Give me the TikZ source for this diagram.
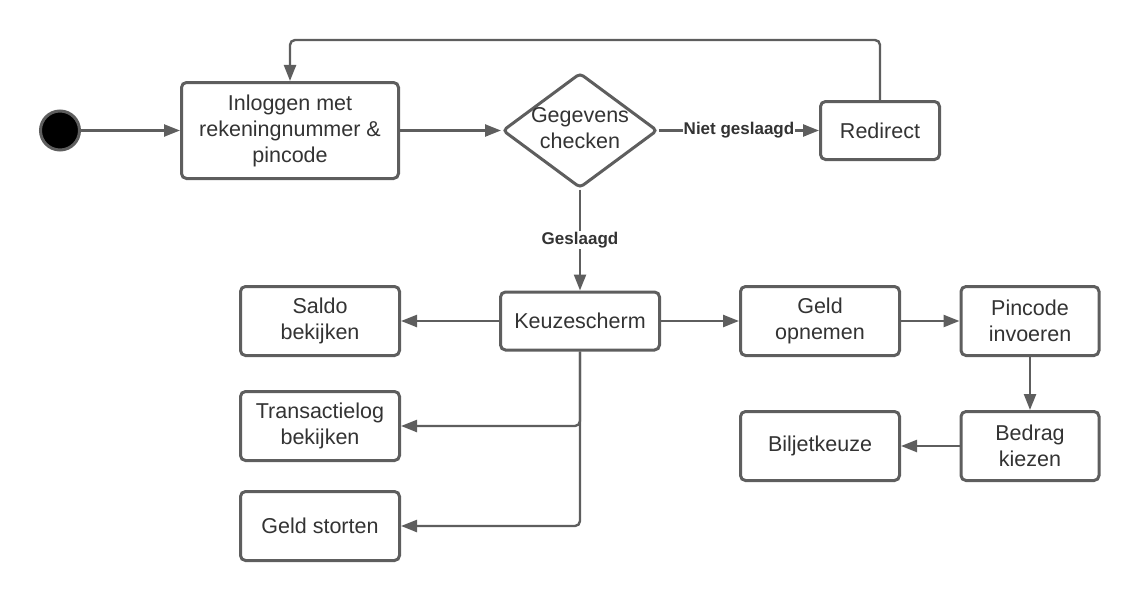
\documentclass[tikz,border=0pt]{standalone}
\usepackage{fontspec}
\setmainfont{Liberation Sans}
\usetikzlibrary{arrows.meta,shapes.geometric}
\definecolor{ln}{HTML}{5E5E5E}
\definecolor{tx}{HTML}{333333}
\begin{document}
\begin{tikzpicture}[x=1pt,y=-1pt,
  box/.style={draw=ln,line width=3pt,rounded corners=5pt,fill=white,align=center,text=tx,
    font=\fontsize{21.5}{26}\selectfont,inner sep=0pt},
  txt/.style={align=center,text=tx,font=\fontsize{21.5}{26}\selectfont,inner sep=0pt},
  con/.style={draw=ln,line width=2.4pt,-{Triangle[length=16pt,width=12pt]}},
  lbl/.style={fill=white,font=\bfseries\fontsize{17}{20}\selectfont,text=tx,inner sep=1pt}]
\useasboundingbox (0,0) rectangle (1140,602);

\node[circle,fill=black,draw=ln,line width=3pt,minimum size=39pt,inner sep=0pt] (start) at (60,130.5) {};
\node[box,minimum width=217pt,minimum height=96pt] (login) at (290,130.5) {Inloggen met\\rekeningnummer \&\\pincode};
\node[diamond,draw=ln,line width=3pt,minimum width=155pt,minimum height=115pt,inner sep=0pt,
  rounded corners=4pt,fill=white] (chk) at (580,130.5) {};
\node[txt] (chktxt) at (580,128) {Gegevens\\checken};
\node[box,minimum width=119pt,minimum height=58pt] (redir) at (880,130.5) {Redirect};
\node[box,minimum width=159pt,minimum height=58pt] (keuze) at (580,321) {Keuzescherm};
\node[box,minimum width=159pt,minimum height=69pt] (saldo) at (320,321) {Saldo\\bekijken};
\node[box,minimum width=159pt,minimum height=69pt] (trans) at (320,426) {Transactielog\\bekijken};
\node[box,minimum width=159pt,minimum height=69pt] (storten) at (320,526) {Geld storten};
\node[box,minimum width=159pt,minimum height=69pt] (opnemen) at (820,321) {Geld\\opnemen};
\node[box,minimum width=138pt,minimum height=69pt] (pincode) at (1030,321) {Pincode\\invoeren};
\node[box,minimum width=138pt,minimum height=69pt] (bedrag) at (1030,446) {Bedrag\\kiezen};
\node[box,minimum width=159pt,minimum height=69pt] (biljet) at (820,446) {Biljetkeuze};

\coordinate (looptop) at (585,40);

\draw[con] (start) -- (login.west);
\draw[con] (login.east) -- (chk.west);
\draw[con] (chk.east) -- node[lbl] {Niet geslaagd} (redir.west);
\draw[con,rounded corners=5pt] (redir.north) |- (looptop) -| (login.north);
\draw[con] (chk.south) -- node[lbl] {Geslaagd} (keuze.north);
\draw[con] (keuze.west) -- (saldo.east);
\draw[con,rounded corners=5pt] (keuze.south) |- (trans.east);
\draw[con,rounded corners=5pt] (keuze.south) |- (storten.east);
\draw[con] (keuze.east) -- (opnemen.west);
\draw[con] (opnemen.east) -- (pincode.west);
\draw[con] (pincode.south) -- (bedrag.north);
\draw[con] (bedrag.west) -- (biljet.east);
\end{tikzpicture}
\end{document}
